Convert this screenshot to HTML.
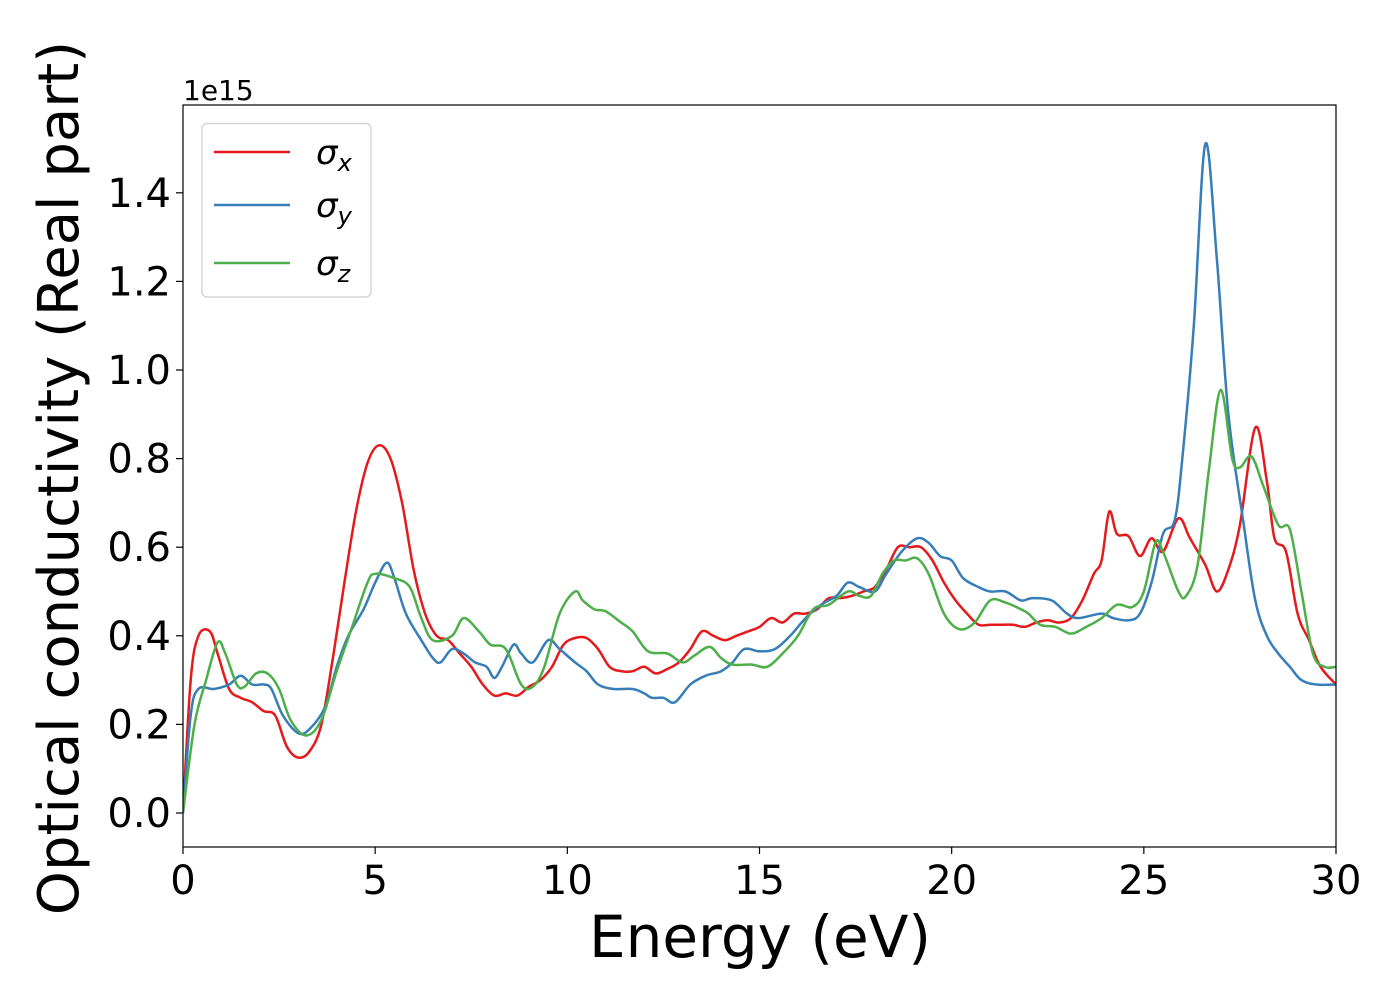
<!DOCTYPE html>
<html><head><meta charset="utf-8"><style>
body{margin:0;background:#fff}
svg{display:block;font-family:"DejaVu Sans","Liberation Sans",sans-serif}
</style></head><body>
<svg id="chart" width="1400" height="1000">
<g id="marks"></g>
</svg>
<script>
const xTicks=[0,5,10,15,20,25,30];
const yTicks=[0.0,0.2,0.4,0.6,0.8,1.0,1.2,1.4];
const yTickLabels=["0.0","0.2","0.4","0.6","0.8","1.0","1.2","1.4"];
const sxE=[0,0.2,0.4,0.7,0.9,1.2,1.5,1.8,2.1,2.4,2.7,3.0,3.3,3.6,3.9,4.2,4.5,4.8,5.1,5.4,5.7,6.0,6.3,6.6,6.9,7.2,7.5,7.8,8.1,8.4,8.7,9.0,9.3,9.6,9.9,10.2,10.5,10.8,11.1,11.4,11.7,12.0,12.3,12.6,12.9,13.2,13.5,13.8,14.1,14.4,14.7,15.0,15.3,15.6,15.9,16.2,16.5,16.8,17.1,17.4,17.7,18.0,18.3,18.6,18.9,19.2,19.5,19.8,20.1,20.4,20.7,21.0,21.3,21.6,21.9,22.2,22.5,22.8,23.1,23.4,23.7,23.9,24.1,24.3,24.6,24.9,25.2,25.5,25.9,26.2,26.6,26.9,27.2,27.5,27.9,28.2,28.4,28.7,29.0,29.3,29.6,30];
const sxV=[0,0.3,0.40,0.41,0.36,0.28,0.26,0.25,0.23,0.22,0.15,0.125,0.14,0.2,0.35,0.52,0.68,0.79,0.83,0.80,0.70,0.55,0.45,0.40,0.39,0.36,0.33,0.29,0.265,0.27,0.265,0.285,0.30,0.33,0.38,0.395,0.395,0.37,0.33,0.32,0.32,0.33,0.315,0.325,0.34,0.37,0.41,0.40,0.39,0.40,0.41,0.42,0.44,0.43,0.45,0.45,0.46,0.485,0.485,0.49,0.50,0.51,0.55,0.60,0.60,0.60,0.57,0.52,0.48,0.45,0.425,0.425,0.425,0.425,0.42,0.43,0.435,0.43,0.44,0.48,0.54,0.57,0.68,0.63,0.625,0.58,0.62,0.59,0.665,0.62,0.56,0.50,0.55,0.65,0.87,0.75,0.62,0.59,0.45,0.39,0.33,0.29];
const syE=[0,0.2,0.4,0.8,1.2,1.5,1.8,2.1,2.3,2.6,3.0,3.3,3.7,4.0,4.3,4.7,5.0,5.3,5.5,5.8,6.2,6.5,6.7,7.0,7.3,7.6,7.9,8.1,8.3,8.6,8.8,9.1,9.5,9.8,10.2,10.5,10.8,11.2,11.7,12.0,12.2,12.5,12.8,13.2,13.6,14.0,14.3,14.6,15.0,15.4,15.8,16.2,16.6,17.0,17.3,17.6,18.0,18.3,18.7,19.1,19.4,19.7,20.0,20.3,20.7,21.0,21.4,21.8,22.1,22.6,23.0,23.3,23.9,24.2,24.6,24.9,25.2,25.5,25.8,26.0,26.3,26.6,26.9,27.2,27.6,27.9,28.2,28.5,28.8,29.1,29.5,30];
const syV=[0,0.22,0.28,0.28,0.29,0.31,0.29,0.29,0.28,0.22,0.18,0.19,0.24,0.33,0.40,0.46,0.52,0.565,0.53,0.45,0.39,0.35,0.34,0.37,0.36,0.34,0.33,0.305,0.33,0.38,0.36,0.34,0.39,0.37,0.34,0.32,0.29,0.28,0.28,0.27,0.26,0.26,0.25,0.29,0.31,0.32,0.34,0.37,0.365,0.37,0.40,0.44,0.47,0.49,0.52,0.51,0.50,0.54,0.59,0.62,0.61,0.58,0.57,0.53,0.51,0.50,0.50,0.48,0.485,0.48,0.45,0.44,0.45,0.44,0.435,0.45,0.52,0.63,0.66,0.80,1.10,1.51,1.25,0.90,0.65,0.48,0.40,0.36,0.33,0.30,0.29,0.29];
const szE=[0,0.3,0.6,0.9,1.1,1.4,1.6,1.9,2.2,2.5,2.8,3.2,3.6,4.0,4.4,4.8,5.0,5.5,5.9,6.2,6.5,7.0,7.3,7.7,8.0,8.4,8.8,9.1,9.4,9.8,10.2,10.4,10.7,11.0,11.4,11.7,12.1,12.6,13.0,13.3,13.7,14.0,14.3,14.8,15.2,15.6,16.0,16.4,16.8,17.3,17.6,17.9,18.2,18.5,18.8,19.1,19.4,19.8,20.2,20.6,21.0,21.4,21.8,22.0,22.3,22.7,23.1,23.5,23.9,24.3,24.7,25.0,25.3,25.5,25.9,26.1,26.4,26.7,27.0,27.3,27.5,27.8,28.1,28.5,28.8,29.1,29.4,29.7,30];
const szV=[0,0.2,0.30,0.385,0.36,0.29,0.285,0.315,0.315,0.28,0.21,0.175,0.21,0.32,0.42,0.52,0.54,0.53,0.51,0.44,0.39,0.40,0.44,0.41,0.38,0.37,0.29,0.285,0.33,0.45,0.50,0.48,0.46,0.455,0.43,0.41,0.365,0.36,0.34,0.355,0.375,0.35,0.335,0.335,0.33,0.36,0.40,0.46,0.47,0.50,0.49,0.49,0.54,0.57,0.57,0.575,0.54,0.45,0.415,0.43,0.48,0.475,0.46,0.45,0.425,0.42,0.405,0.42,0.44,0.47,0.465,0.50,0.61,0.59,0.50,0.49,0.56,0.78,0.955,0.80,0.78,0.805,0.74,0.65,0.64,0.50,0.36,0.33,0.33];

const L=183,R=1336,T=105,B=847;
const X=e=>L+(e-0)/30*(R-L);
const Y=v=>813-v/0.2*88.6;
const NS="http://www.w3.org/2000/svg";
const svg=document.getElementById('chart');
function mk(tag,attrs,parent){const el=document.createElementNS(NS,tag);for(const k in attrs)el.setAttribute(k,attrs[k]);(parent||svg).appendChild(el);return el;}
function smooth(xs,ys){
  const p=xs.map((e,i)=>[X(e),Y(ys[i])]);
  let d="M"+p[0][0]+","+p[0][1];
  for(let i=0;i<p.length-1;i++){
    const p0=p[i-1]||p[i],p1=p[i],p2=p[i+1],p3=p[i+2]||p2;
    const c1=[p1[0]+(p2[0]-p0[0])/6,p1[1]+(p2[1]-p0[1])/6];
    const c2=[p2[0]-(p3[0]-p1[0])/6,p2[1]-(p3[1]-p1[1])/6];
    d+=" C"+c1[0].toFixed(1)+","+c1[1].toFixed(1)+" "+c2[0].toFixed(1)+","+c2[1].toFixed(1)+" "+p2[0].toFixed(1)+","+p2[1].toFixed(1);
  }
  return d;
}
const marks=document.getElementById('marks');
const cp=mk('clipPath',{id:'clip'});mk('rect',{x:L,y:T,width:R-L,height:B-T},cp);
const series=[[sxE,sxV,'#e41a1c','sigma-x-line'],[syE,syV,'#377eb8','sigma-y-line'],[szE,szV,'#4daf4a','sigma-z-line']];
series.forEach(s=>{
  const p=mk('path',{d:smooth(s[0],s[1]),fill:'none',stroke:s[2],'stroke-width':2.5,'stroke-linejoin':'round','clip-path':'url(#clip)'},marks);
  
  
});
const frame=mk('rect',{x:L,y:T,width:R-L,height:B-T,fill:'none',stroke:'#000','stroke-width':1.2});


xTicks.forEach(t=>{
  const ln=mk('line',{x1:X(t),x2:X(t),y1:B,y2:B+7,stroke:'#000','stroke-width':1.2});
  
  
  const tx=mk('text',{x:X(t),y:B+47,'text-anchor':'middle','font-size':40});
  tx.textContent=t;
  
  
});
yTicks.forEach((t,i)=>{
  const ln=mk('line',{x1:L-7,x2:L,y1:Y(t),y2:Y(t),stroke:'#000','stroke-width':1.2});
  
  
  const tx=mk('text',{x:L-12,y:Y(t)+14,'text-anchor':'end','font-size':40});
  tx.textContent=yTickLabels[i];
  
  
});
</script>
<svg style="position:absolute;left:0;top:0" width="1400" height="1000">
<text x="183" y="100" font-size="28" font-family="DejaVu Sans, sans-serif">1e15</text>
<text x="760" y="957" text-anchor="middle" font-size="58" font-family="DejaVu Sans, sans-serif">Energy (eV)</text>
<text transform="translate(78,478) rotate(-90)" text-anchor="middle" font-size="56" font-family="DejaVu Sans, sans-serif">Optical conductivity (Real part)</text>
<g>
<rect x="202" y="123.5" width="169" height="173.5" rx="5" fill="#fff" fill-opacity="0.8" stroke="#ccc" stroke-width="1.2"/>
<line x1="214" x2="290" y1="152" y2="152" stroke="#e41a1c" stroke-width="2.5"/>
<line x1="214" x2="290" y1="205" y2="205" stroke="#377eb8" stroke-width="2.5"/>
<line x1="214" x2="290" y1="263" y2="263" stroke="#4daf4a" stroke-width="2.5"/>
<text x="316" y="164" font-size="34" font-style="italic" font-family="DejaVu Sans, sans-serif">σ<tspan font-size="24" dy="7">x</tspan></text>
<text x="316" y="217" font-size="34" font-style="italic" font-family="DejaVu Sans, sans-serif">σ<tspan font-size="24" dy="7">y</tspan></text>
<text x="316" y="275" font-size="34" font-style="italic" font-family="DejaVu Sans, sans-serif">σ<tspan font-size="24" dy="7">z</tspan></text>
</g>
</svg>
</body></html>
